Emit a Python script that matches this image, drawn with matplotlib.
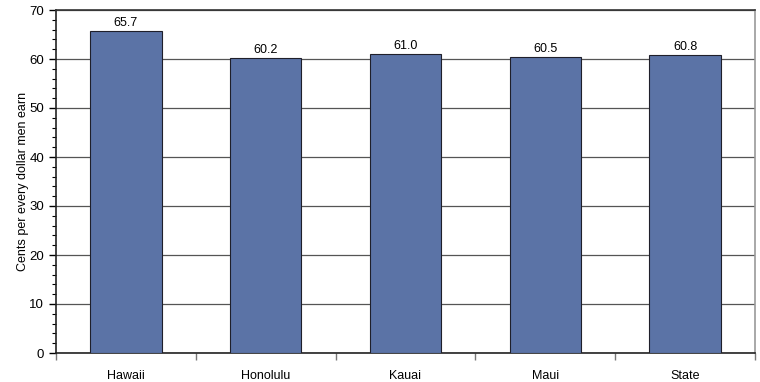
import matplotlib
matplotlib.use("Agg")
import matplotlib.pyplot as plt
from matplotlib.ticker import MultipleLocator
import numpy as np

plt.rcParams['font.family'] = ['Liberation Sans', 'DejaVu Sans']

counties = ["Hawaii", "Honolulu", "Kauai", "Maui", "State"]
cents = [65.7, 60.2, 61.0, 60.5, 60.8]

fig = plt.figure(figsize=(7.6, 3.82), dpi=100)
axis = fig.add_axes([56 / 760, 1 - 353 / 382, 699 / 760, 343 / 382])

x = np.arange(len(counties))
bars = axis.bar(x, cents, width=0.51, color="#5B73A6", edgecolor="#1f1f2a",
                linewidth=0.8, zorder=3)
for b, v in zip(bars, cents):
    axis.text(b.get_x() + b.get_width() / 2, v + 0.4, "%.1f" % v,
              ha="center", va="bottom", fontsize=9)

axis.set_xlim(-0.5, len(counties) - 0.5)
axis.set_ylim(0, 70)
axis.yaxis.set_major_locator(MultipleLocator(10))
axis.yaxis.set_minor_locator(MultipleLocator(2))
axis.grid(axis="y", which="major", color="#555555", linewidth=0.9, zorder=0)

# category labels centred, ticks at category boundaries
axis.set_xticks(x)
axis.set_xticklabels(counties, fontsize=9)
axis.tick_params(axis="x", which="major", length=0, pad=12)
axis.set_xticks(np.arange(len(counties) + 1) - 0.5, minor=True)
axis.tick_params(axis="x", which="minor", length=5, color="#777777", width=1)
axis.tick_params(axis="y", which="major", length=5, labelsize=9.5, width=1)
axis.tick_params(axis="y", which="minor", length=3, width=0.8)

axis.set_ylabel("Cents per every dollar men earn", fontsize=9, labelpad=0)

axis.spines["top"].set_color("#333333")
axis.spines["right"].set_color("#999999")
axis.spines["left"].set_color("#222222")
axis.spines["bottom"].set_color("#222222")
for s in axis.spines.values():
    s.set_linewidth(1.2)

fig.savefig("out.png", dpi=100)
